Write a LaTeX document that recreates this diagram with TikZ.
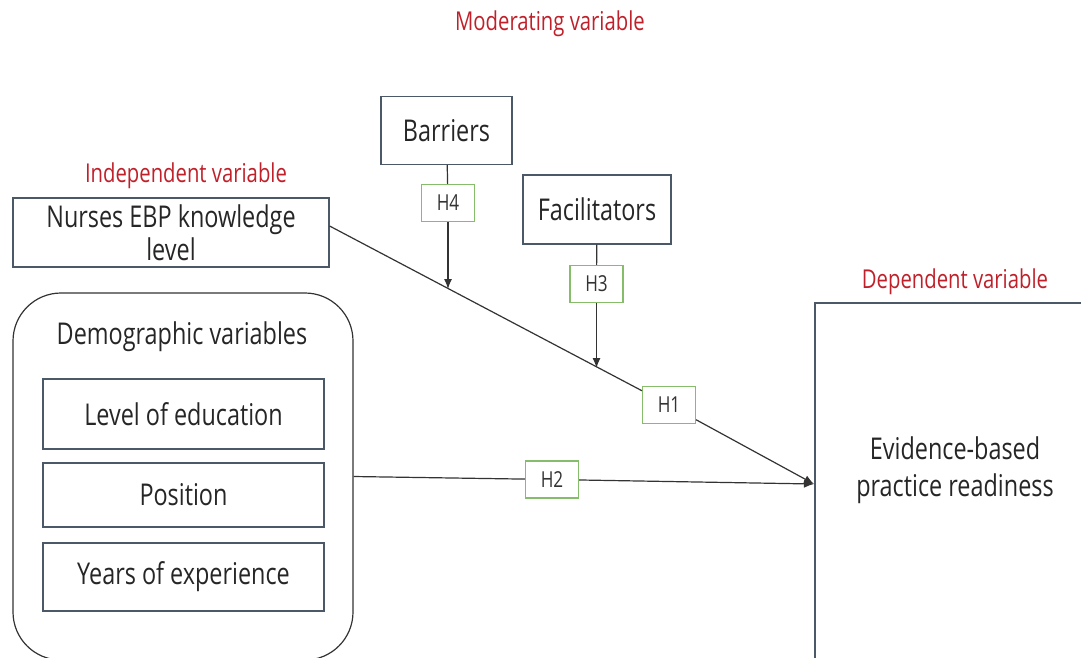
\documentclass[tikz,border=0pt]{standalone}
\usepackage{fontspec}
\setmainfont[FakeStretch=0.78]{Open Sans}
\usetikzlibrary{arrows.meta}
\definecolor{boxc}{HTML}{4A5868}
\definecolor{hgreen}{HTML}{86BD6A}
\definecolor{redt}{HTML}{C0202A}
\definecolor{linec}{HTML}{333333}
\tikzset{
  mainbox/.style={draw=boxc, line width=1.2pt, inner sep=0pt, align=center,
    font=\fontsize{30}{33}\selectfont, text=black!85},
  hbox/.style={draw=hgreen, line width=1.2pt, inner sep=0pt, minimum width=53pt, minimum height=37pt,
    font=\fontsize{22}{24}\selectfont, text=black!80, fill=white},
  redlabel/.style={text=redt, font=\fontsize{26}{30}\selectfont, inner sep=0pt},
  conn/.style={draw=linec, line width=1.2pt},
  arr/.style={conn, -{Latex[length=10pt,width=8pt]}},
}
\begin{document}
\begin{tikzpicture}[x=1pt,y=-1pt]
\clip (0,0) rectangle (1081,657);
\useasboundingbox (0,0) rectangle (1081,657);
% labels
\node[redlabel] (modl) at (550,24) {Moderating variable};
\node[redlabel] (indl) at (186,176) {Independent variable};
\node[redlabel] (depl) at (955,282) {Dependent variable};
% boxes
\node[mainbox, minimum width=131pt, minimum height=68pt] (barriers) at (446.5,130.5) {Barriers};
\node[mainbox, minimum width=148pt, minimum height=69pt] (facil) at (597,209.5) {Facilitators};
\node[mainbox, minimum width=316pt, minimum height=69pt] (nurses) at (171,232.5) {Nurses EBP knowledge\\level};
\node[mainbox, minimum width=285pt, minimum height=397pt] (dep) at (957.5,501.5) {};
\node[font=\fontsize{30}{37}\selectfont, text=black!85, align=center, inner sep=0pt] (deptext) at (955,470) {Evidence-based\\practice readiness};
\node[draw=linec, line width=1.2pt, rounded corners=48pt, minimum width=340pt, minimum height=367pt, inner sep=0pt] (demo) at (183,476.5) {};
\node[font=\fontsize{30}{33}\selectfont, text=black!85, inner sep=0pt] (demotitle) at (182,337) {Demographic variables};
\node[mainbox, minimum width=281pt, minimum height=70pt] (edu) at (183.5,414) {Level of education};
\node[mainbox, minimum width=281pt, minimum height=64pt] (pos) at (183.5,495) {Position};
\node[mainbox, minimum width=281pt, minimum height=68pt] (years) at (183.5,577) {Years of experience};
% hypothesis boxes
\node[hbox] (h4) at (448,203) {H4};
\node[hbox] (h3) at (596.5,284) {H3};
\node[hbox] (h1) at (669,405) {H1};
\node[hbox] (h2) at (552,479.5) {H2};
% coordinates
\coordinate (tip) at (814,484);
\coordinate (m4) at (448,289);
\coordinate (m3) at (596.5,368);
% connectors
\draw[conn] ([yshift=6.5pt]nurses.east) -- (h1);
\draw[arr] (h1) -- (tip);
\draw[conn] (demo.east) -- (h2);
\draw[arr] (h2) -- (tip);
\draw[conn] (barriers) -- (h4);
\draw[arr] (h4) -- (m4);
\draw[conn] (facil) -- (h3);
\draw[arr] (h3) -- (m3);
\end{tikzpicture}
\end{document}
